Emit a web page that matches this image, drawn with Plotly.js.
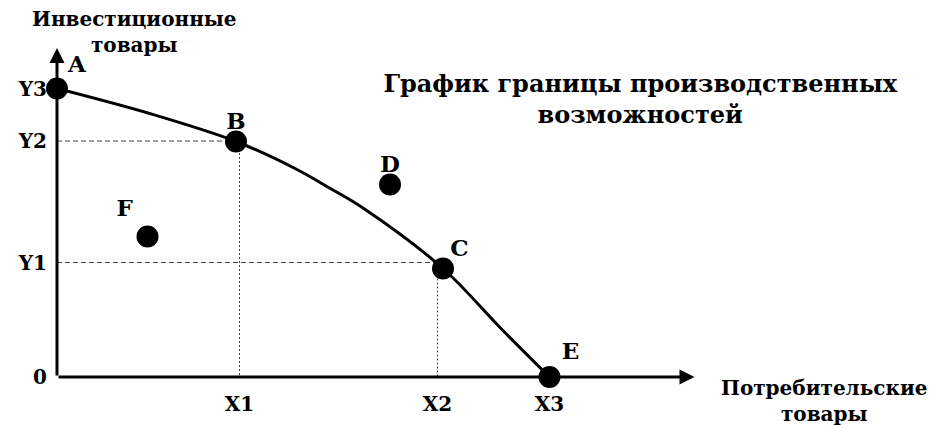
<!DOCTYPE html>
<html>
<head>
<meta charset="utf-8">
<script src="https://cdn.plot.ly/plotly-3.0.1.min.js"></script>
<style>html,body{margin:0;padding:0;background:#fff;}#chart{width:936px;height:428px;}</style>
</head>
<body>
<div id="chart"></div>
<script>
// Production possibilities frontier (units)
const curveX = [0, 1.85, 3.58, 4.78, 5.45, 6.12, 7.72, 8.85, 9.85];
const curveY = [5.77, 5.27, 4.71, 4.16, 3.78, 3.38, 2.17, 1.0, 0];
const pointNames = ['A', 'B', 'C', 'D', 'E', 'F'];
const pointX = [0, 3.58, 7.72, 6.66, 9.85, 1.81];
const pointY = [5.77, 4.71, 2.17, 3.85, 0, 2.81];
const xTickVals = [3.65, 7.61, 9.85];
const xTickText = ['X1', 'X2', 'X3'];
const yTickVals = [0, 2.29, 4.72, 5.77];
const yTickText = ['0', 'Y1', 'Y2', 'Y3'];
const xAxisEnd = 12.75;
const yAxisEnd = 6.58;
const titleText = 'График границы производственных<br>возможностей';
const yTitle = 'Инвестиционные<br>товары';
const xTitle = 'Потребительские<br>товары';

const FONT = 'DejaVu Serif, Liberation Serif, serif';
const labelPos = ['top right', 'top center', 'top right', 'top center', 'top right', 'top left'];
const labelGap = [16, 10, 10, 10, 18, 22];

const traces = [
  { // guide B horizontal
    x: [0, xTickVals[0]], y: [yTickVals[2], yTickVals[2]],
    mode: 'lines', line: {color: '#444', width: 1, dash: '5px,3px'}, hoverinfo: 'skip', cliponaxis: false
  },
  { // guide B vertical
    x: [xTickVals[0], xTickVals[0]], y: [yTickVals[2], 0],
    mode: 'lines', line: {color: '#444', width: 1, dash: '2px,2px'}, hoverinfo: 'skip', cliponaxis: false
  },
  { // guide C horizontal
    x: [0, xTickVals[1]], y: [yTickVals[1], yTickVals[1]],
    mode: 'lines', line: {color: '#444', width: 1, dash: '5px,3px'}, hoverinfo: 'skip', cliponaxis: false
  },
  { // guide C vertical
    x: [xTickVals[1], xTickVals[1]], y: [yTickVals[1], 0],
    mode: 'lines', line: {color: '#444', width: 1, dash: '2px,2px'}, hoverinfo: 'skip', cliponaxis: false
  },
  {
    x: curveX, y: curveY, mode: 'lines',
    line: {color: '#000', width: 3, shape: 'spline', smoothing: 1.0}, cliponaxis: false
  },
  {
    x: pointX, y: pointY, mode: 'markers',
    marker: {color: '#000', size: 22, line: {width: 0}}, cliponaxis: false
  },
  {
    x: pointX, y: pointY, mode: 'markers+text', text: pointNames, textposition: labelPos,
    textfont: {family: FONT, size: 23, weight: 'bold', color: '#000'},
    marker: {color: 'rgba(0,0,0,0)', opacity: 0, size: labelGap, line: {width: 0, color: 'rgba(0,0,0,0)'}},
    cliponaxis: false
  }
];

const axisFont = {family: FONT, size: 20, weight: 'bold', color: '#000'};
const layout = {
  width: 936, height: 428,
  margin: {l: 57, r: 236, t: 10, b: 51},
  paper_bgcolor: '#fff', plot_bgcolor: '#fff',
  showlegend: false,
  title: {
    text: titleText, xref: 'container', yref: 'container', x: 0.684, y: 0.786,
    xanchor: 'center', yanchor: 'middle',
    font: {family: FONT, size: 24, weight: 'bold', color: '#000'}
  },
  xaxis: {
    range: [0, 12.86], showgrid: false, zeroline: false, showline: false,
    tickvals: xTickVals, ticktext: xTickText, ticks: '', tickfont: axisFont,
    ticklabelstandoff: 13, fixedrange: true
  },
  yaxis: {
    range: [0, 7.34], showgrid: false, zeroline: false, showline: false,
    tickvals: yTickVals, ticktext: yTickText, ticks: '', tickfont: axisFont,
    ticklabelstandoff: 9, fixedrange: true
  },
  annotations: [
    {x: xAxisEnd, y: 0, ax: 0, ay: 0, xref: 'x', yref: 'y', axref: 'x', ayref: 'y',
     text: '', showarrow: true, arrowhead: 2, arrowsize: 1, arrowwidth: 3, arrowcolor: '#000', standoff: 0},
    {x: 0, y: yAxisEnd, ax: 0, ay: 0, xref: 'x', yref: 'y', axref: 'x', ayref: 'y',
     text: '', showarrow: true, arrowhead: 2, arrowsize: 1, arrowwidth: 3, arrowcolor: '#000', standoff: 0},
    {text: yTitle, xref: 'paper', yref: 'paper', x: 0.121, y: 1.0136, xanchor: 'center', yanchor: 'top',
     showarrow: false, font: {family: FONT, size: 20, weight: 'bold', color: '#000'}},
    {text: xTitle, xref: 'paper', yref: 'paper', x: 1.193, y: -0.14, xanchor: 'center', yanchor: 'bottom',
     showarrow: false, font: {family: FONT, size: 20, weight: 'bold', color: '#000'}}
  ]
};

Plotly.newPlot('chart', traces, layout, {displayModeBar: false, staticPlot: true});
</script>
</body>
</html>
